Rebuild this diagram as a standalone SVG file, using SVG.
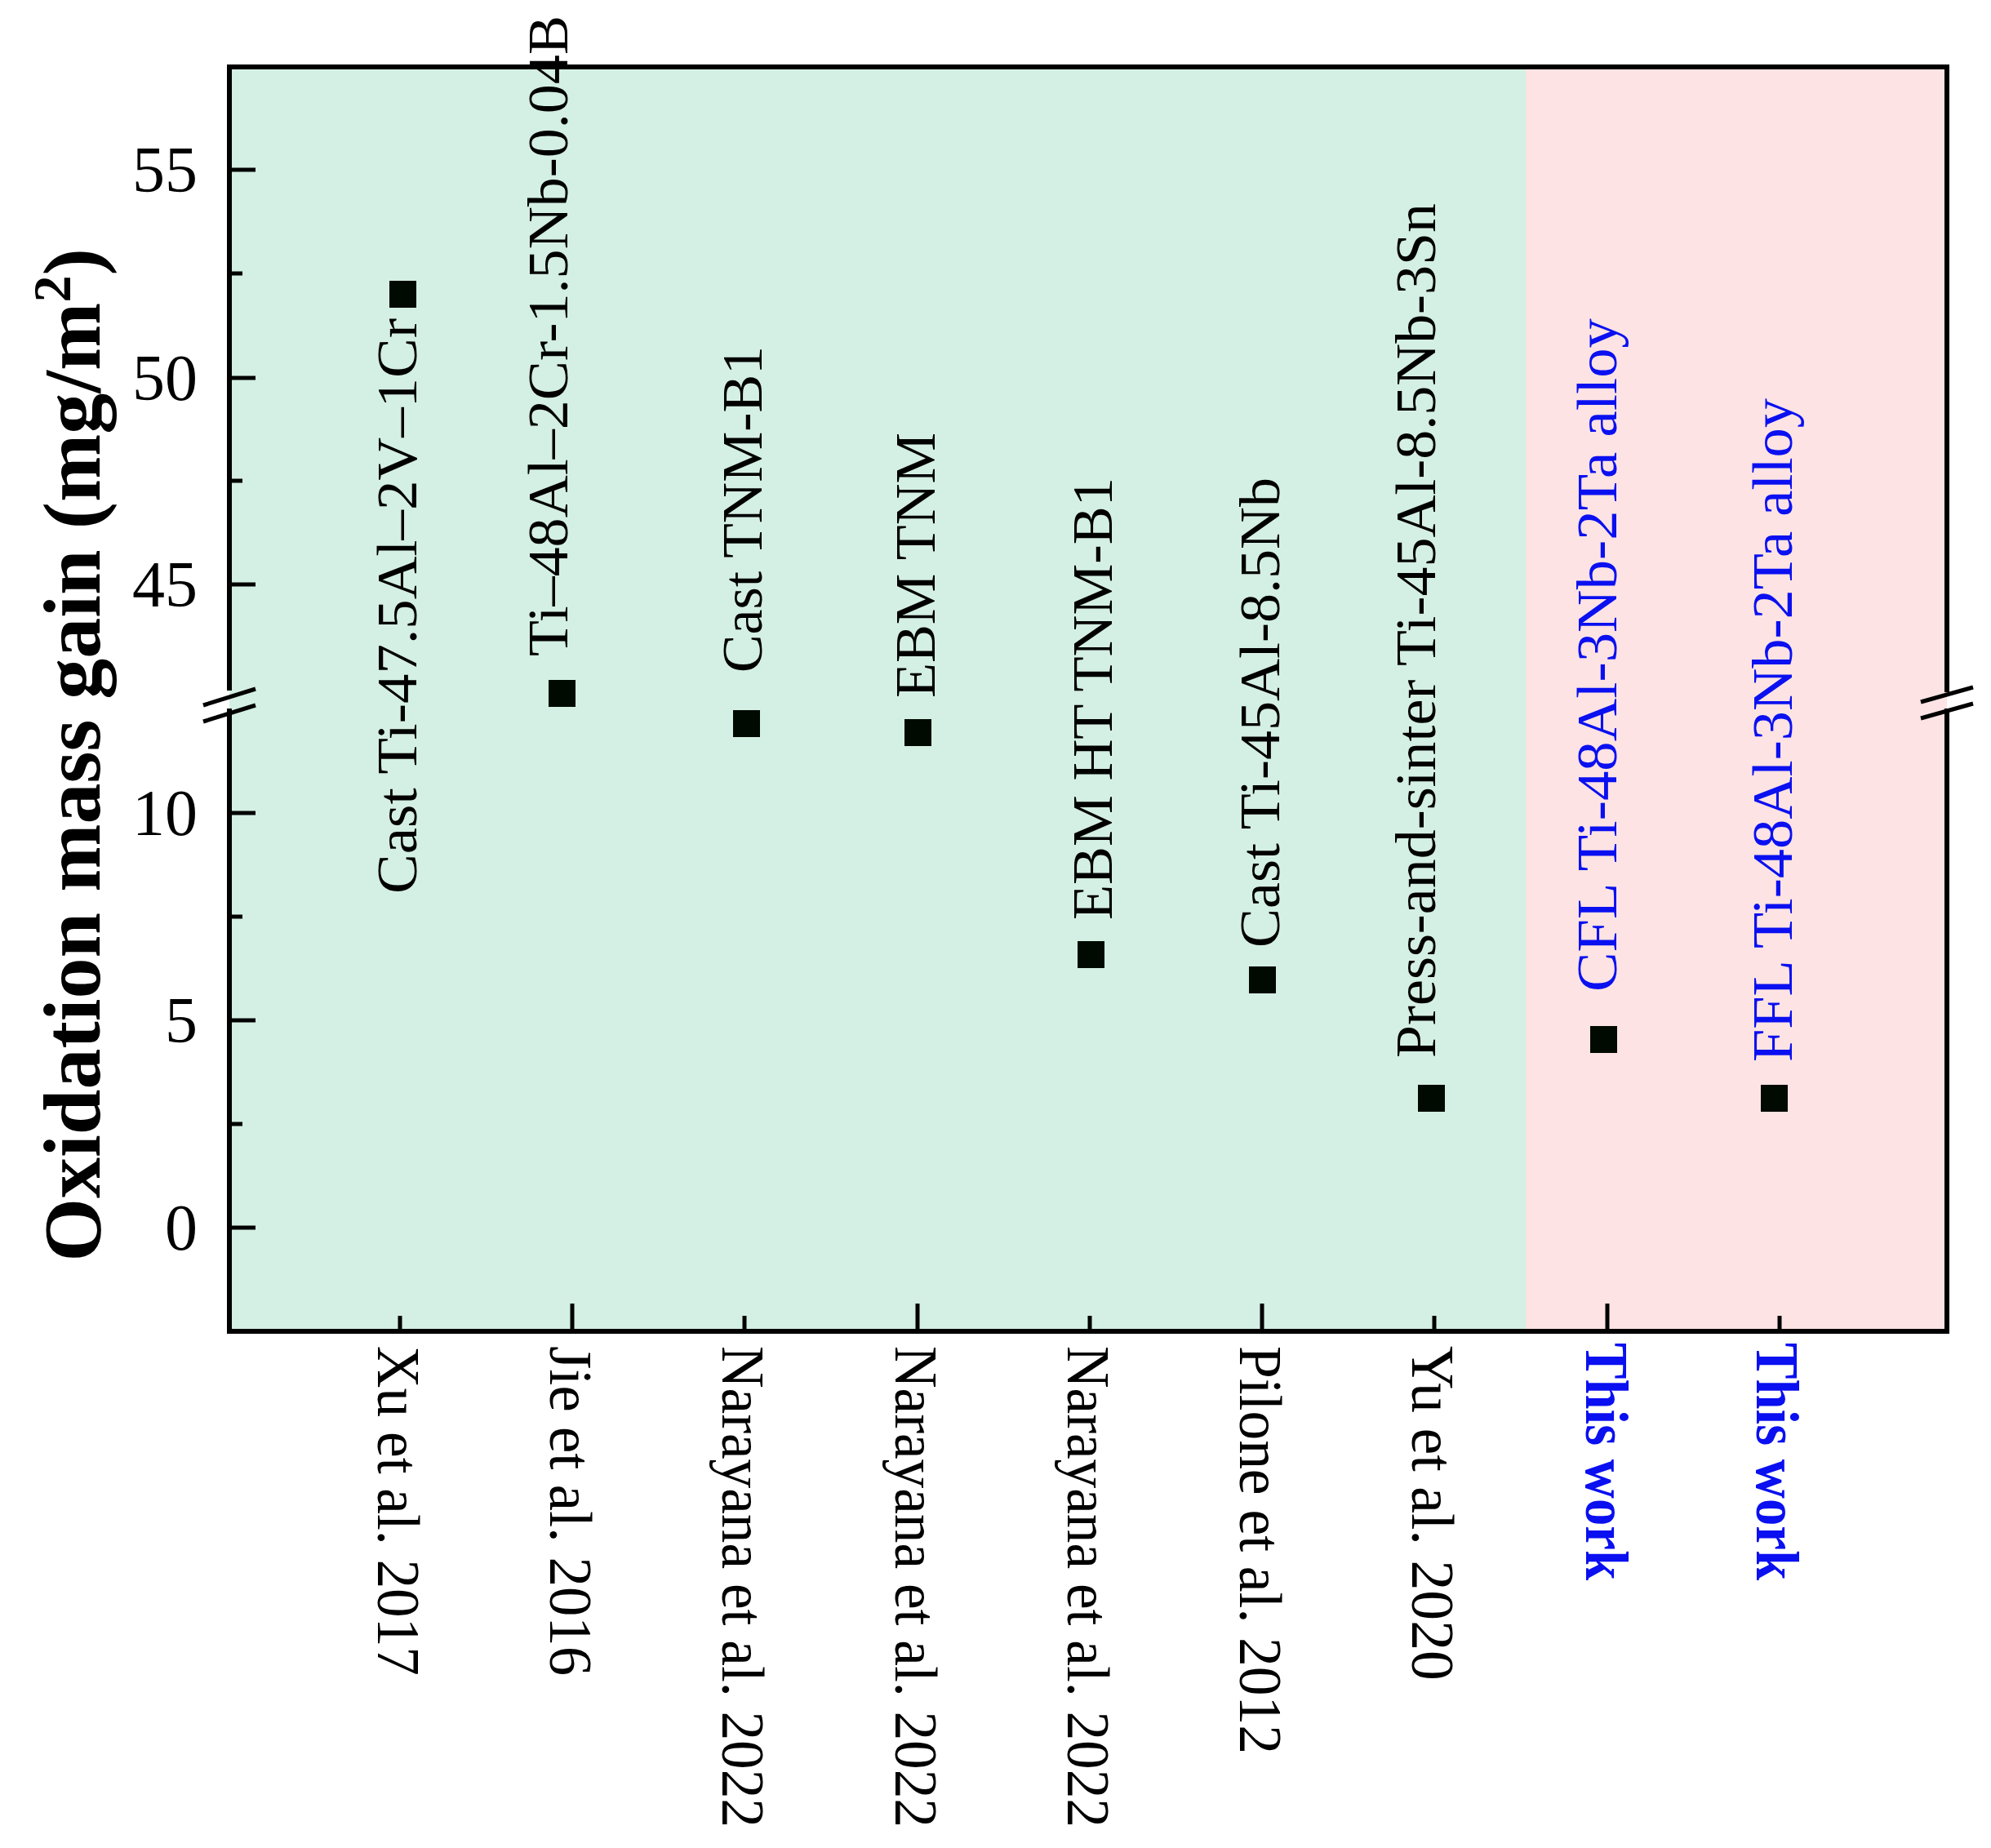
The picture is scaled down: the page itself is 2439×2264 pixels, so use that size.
<svg xmlns="http://www.w3.org/2000/svg" width="2439" height="2264" viewBox="0 0 2439 2264">
<style>
.t{font-family:"Liberation Serif","Times New Roman",serif;fill:#000}
.lab{font-size:70px}
.xl{font-size:74px}
.tk{font-size:80px;text-anchor:end}
.blue{fill:#0a10f0}
.ax{stroke:#000;stroke-width:6;fill:none}
.tick{stroke:#000;stroke-width:5}
.pt{fill:#000a00}
</style>
<rect width="2439" height="2264" fill="#fff"/>
<g id="background">
<rect x="281" y="82" width="1588" height="1549" fill="#d4efe3"/>
<rect x="1869" y="82" width="516" height="1549" fill="#fde3e3"/>
</g>
<g id="axes">
<path class="ax" d="M281,846 V82 H2385 V848 M2385,868 V1631 H281 V868"/>
<line class="tick" x1="249" y1="864" x2="313" y2="844"/>
<line class="tick" x1="249" y1="884" x2="313" y2="864"/>
<line class="tick" x1="2353" y1="880" x2="2417" y2="862"/>
<line class="tick" x1="2353" y1="860" x2="2417" y2="842"/>
<g id="yticks">
<line class="tick" x1="281" y1="1504" x2="313" y2="1504"/>
<line class="tick" x1="281" y1="1377" x2="297" y2="1377"/>
<line class="tick" x1="281" y1="1250" x2="313" y2="1250"/>
<line class="tick" x1="281" y1="1123" x2="297" y2="1123"/>
<line class="tick" x1="281" y1="996" x2="313" y2="996"/>
<line class="tick" x1="281" y1="716" x2="313" y2="716"/>
<line class="tick" x1="281" y1="589" x2="297" y2="589"/>
<line class="tick" x1="281" y1="463" x2="313" y2="463"/>
<line class="tick" x1="281" y1="335" x2="297" y2="335"/>
<line class="tick" x1="281" y1="208" x2="313" y2="208"/>
</g>
<g id="xticks">
<line class="tick" x1="490" y1="1631" x2="490" y2="1612"/>
<line class="tick" x1="701" y1="1631" x2="701" y2="1597"/>
<line class="tick" x1="912" y1="1631" x2="912" y2="1612"/>
<line class="tick" x1="1124" y1="1631" x2="1124" y2="1597"/>
<line class="tick" x1="1335" y1="1631" x2="1335" y2="1612"/>
<line class="tick" x1="1546" y1="1631" x2="1546" y2="1597"/>
<line class="tick" x1="1757" y1="1631" x2="1757" y2="1612"/>
<line class="tick" x1="1969" y1="1631" x2="1969" y2="1597"/>
<line class="tick" x1="2180" y1="1631" x2="2180" y2="1612"/>
</g>
<g id="yticklabels">
<text class="t tk" x="242" y="1531">0</text>
<text class="t tk" x="242" y="1277">5</text>
<text class="t tk" x="242" y="1023">10</text>
<text class="t tk" x="242" y="743">45</text>
<text class="t tk" x="242" y="490">50</text>
<text class="t tk" x="242" y="235">55</text>
</g>
<text class="t" font-weight="bold" font-size="100" text-anchor="middle" transform="translate(122,925) rotate(-90)">Oxidation mass gain (mg/m<tspan font-size="66" dy="-36">2</tspan><tspan dy="36">)</tspan></text>
</g>
<g id="xlabels">
<text class="t xl" transform="translate(463,1649) rotate(90)" textLength="404" lengthAdjust="spacingAndGlyphs">Xu et al. 2017</text>
<text class="t xl" transform="translate(674,1649) rotate(90)" textLength="404" lengthAdjust="spacingAndGlyphs">Jie et al. 2016</text>
<text class="t xl" transform="translate(885,1649) rotate(90)" textLength="590" lengthAdjust="spacingAndGlyphs">Narayana et al. 2022</text>
<text class="t xl" transform="translate(1097,1649) rotate(90)" textLength="590" lengthAdjust="spacingAndGlyphs">Narayana et al. 2022</text>
<text class="t xl" transform="translate(1308,1649) rotate(90)" textLength="590" lengthAdjust="spacingAndGlyphs">Narayana et al. 2022</text>
<text class="t xl" transform="translate(1519,1649) rotate(90)" textLength="500" lengthAdjust="spacingAndGlyphs">Pilone et al. 2012</text>
<text class="t xl" transform="translate(1730,1649) rotate(90)" textLength="410" lengthAdjust="spacingAndGlyphs">Yu et al. 2020</text>
<text class="t xl blue" font-weight="bold" transform="translate(1943,1645) rotate(90)" textLength="291" lengthAdjust="spacingAndGlyphs">This work</text>
<text class="t xl blue" font-weight="bold" transform="translate(2152,1645) rotate(90)" textLength="291" lengthAdjust="spacingAndGlyphs">This work</text>
</g>
<g id="p1"><rect class="pt" x="477" y="344" width="33" height="33"/><text class="t lab" transform="translate(510,1095) rotate(-90)" textLength="705" lengthAdjust="spacingAndGlyphs">Cast Ti-47.5Al–2V–1Cr</text></g>
<g id="p2"><rect class="pt" x="672" y="833" width="33" height="33"/><text class="t lab" transform="translate(695,804) rotate(-90)" textLength="785" lengthAdjust="spacingAndGlyphs">Ti–48Al–2Cr-1.5Nb-0.04B</text></g>
<g id="p3"><rect class="pt" x="898" y="870" width="33" height="33"/><text class="t lab" transform="translate(933,824) rotate(-90)" textLength="400" lengthAdjust="spacingAndGlyphs">Cast TNM-B1</text></g>
<g id="p4"><rect class="pt" x="1108" y="881" width="33" height="33"/><text class="t lab" transform="translate(1145,855) rotate(-90)" textLength="325" lengthAdjust="spacingAndGlyphs">EBM TNM</text></g>
<g id="p5"><rect class="pt" x="1320" y="1153" width="33" height="33"/><text class="t lab" transform="translate(1362,1127) rotate(-90)" textLength="542" lengthAdjust="spacingAndGlyphs">EBM HT TNM-B1</text></g>
<g id="p6"><rect class="pt" x="1530" y="1184" width="33" height="33"/><text class="t lab" transform="translate(1567,1161) rotate(-90)" textLength="576" lengthAdjust="spacingAndGlyphs">Cast Ti-45Al-8.5Nb</text></g>
<g id="p7"><rect class="pt" x="1737" y="1329" width="33" height="33"/><text class="t lab" transform="translate(1758,1296) rotate(-90)" textLength="1047" lengthAdjust="spacingAndGlyphs">Press-and-sinter Ti-45Al-8.5Nb-3Sn</text></g>
<g id="p8"><rect class="pt" x="1948" y="1257" width="33" height="33" fill="#100000"/><text class="t lab blue" transform="translate(1980,1215) rotate(-90)" textLength="825" lengthAdjust="spacingAndGlyphs">CFL Ti-48Al-3Nb-2Ta alloy</text></g>
<g id="p9"><rect class="pt" x="2157" y="1329" width="33" height="33" fill="#100000"/><text class="t lab blue" transform="translate(2195,1301) rotate(-90)" textLength="813" lengthAdjust="spacingAndGlyphs">FFL Ti-48Al-3Nb-2Ta alloy</text></g>
</svg>
